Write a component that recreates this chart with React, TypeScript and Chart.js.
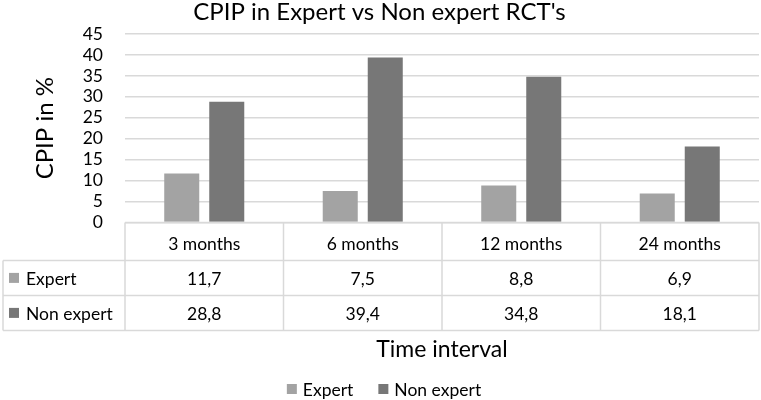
import React, { useEffect, useRef } from "react";
import { Chart, registerables } from "chart.js";

Chart.register(...registerables);

const chartTitle = "CPIP in Expert vs Non expert RCT's";
const yAxisTitle = "CPIP in %";
const xAxisTitle = "Time interval";
const categories = ["3 months", "6 months", "12 months", "24 months"];
const seriesNames = ["Expert", "Non expert"];
const expertValues = [11.7, 7.5, 8.8, 6.9];
const nonExpertValues = [28.8, 39.4, 34.8, 18.1];
const yMin = 0;
const yMax = 45;
const yStep = 5;

const COLORS = ["#a3a3a3", "#777777"];
const FONT = "Lato";
const TEXT = "#000000";
const GRID = "#d9d9d9";

const fmt = (v: number) => v.toFixed(1).replace(".", ",");

const tablePlugin = {
  id: "dataTable",
  afterDraw(chart: any) {
    const { ctx, chartArea } = chart;
    const xs = chart.scales.x;
    const left = chartArea.left;
    const right = chartArea.right;
    const top = chartArea.bottom;
    const headerH = 38;
    const rowH = 35;
    const labelLeft = 3;
    const n = categories.length;
    const colW = (right - left) / n;
    const rows = [expertValues, nonExpertValues];
    const bottom = top + headerH + rows.length * rowH;
    ctx.save();
    ctx.strokeStyle = GRID;
    ctx.lineWidth = 1.5;
    const line = (x1: number, y1: number, x2: number, y2: number) => {
      ctx.beginPath();
      ctx.moveTo(x1, y1);
      ctx.lineTo(x2, y2);
      ctx.stroke();
    };
    line(left, top, right, top);
    for (let r = 0; r <= rows.length; r++) {
      const y = top + headerH + r * rowH;
      line(labelLeft, y, right, y);
    }
    for (let i = 0; i <= n; i++) {
      const x = left + i * colW;
      line(x, top, x, bottom);
    }
    line(labelLeft, top + headerH, labelLeft, bottom);

    ctx.font = `17.5px ${FONT}`;
    ctx.textBaseline = "middle";
    ctx.textAlign = "center";
    ctx.fillStyle = TEXT;
    categories.forEach((c, i) => ctx.fillText(c, xs.getPixelForValue(i), top + 22));
    rows.forEach((vals, r) => {
      const cy = top + headerH + r * rowH + rowH / 2 + 1;
      ctx.fillStyle = TEXT;
      ctx.textAlign = "center";
      vals.forEach((v, i) => ctx.fillText(fmt(v), xs.getPixelForValue(i), cy));
      ctx.fillStyle = COLORS[r];
      ctx.fillRect(9, cy - 6, 10, 10);
      ctx.fillStyle = TEXT;
      ctx.textAlign = "left";
      ctx.fillText(seriesNames[r], 26, cy);
    });

    // legend
    const box = 10;
    const gapText = 6;
    const gapItem = 25;
    const widths = seriesNames.map((s) => box + gapText + ctx.measureText(s).width);
    const total = widths.reduce((a, b) => a + b, 0) + gapItem * (widths.length - 1);
    let x = 384 - total / 2;
    const ly = 390;
    seriesNames.forEach((s, i) => {
      ctx.fillStyle = COLORS[i];
      ctx.fillRect(x, ly - 6, box, box);
      ctx.fillStyle = TEXT;
      ctx.textAlign = "left";
      ctx.fillText(s, x + box + gapText, ly);
      x += widths[i] + gapItem;
    });
    ctx.restore();
  },
};

export default function App() {
  const ref = useRef<HTMLCanvasElement>(null);
  useEffect(() => {
    document.body.style.margin = "0";
    const chart = new Chart(ref.current as HTMLCanvasElement, {
      type: "bar",
      data: {
        labels: categories,
        datasets: [
          {
            label: seriesNames[0],
            data: expertValues,
            backgroundColor: COLORS[0],
            barPercentage: 0.778,
            categoryPercentage: 0.568,
          },
          {
            label: seriesNames[1],
            data: nonExpertValues,
            backgroundColor: COLORS[1],
            barPercentage: 0.778,
            categoryPercentage: 0.568,
          },
        ],
      },
      options: {
        responsive: false,
        animation: false,
        layout: { padding: { left: 0, right: 2, top: 0, bottom: 0 } },
        plugins: {
          legend: { display: false },
          tooltip: { enabled: false },
          title: {
            display: true,
            text: chartTitle,
            color: TEXT,
            font: { family: FONT, size: 24, weight: "normal", lineHeight: 1 },
            padding: { top: 0, bottom: 10 },
          },
        },
        scales: {
          x: {
            grid: { display: false, drawTicks: false },
            border: { display: false },
            ticks: { display: false },
            title: {
              display: true,
              text: xAxisTitle,
              color: TEXT,
              font: { family: FONT, size: 23 },
              padding: { top: 113, bottom: 37 },
            },
          },
          y: {
            min: yMin,
            max: yMax,
            ticks: {
              stepSize: yStep,
              autoSkip: false,
              color: TEXT,
              font: { family: FONT, size: 17.5 },
              padding: 22,
            },
            grid: { color: GRID, lineWidth: 1.5, drawTicks: false },
            border: { display: false },
            title: {
              display: true,
              text: yAxisTitle,
              color: TEXT,
              font: { family: FONT, size: 24 },
              padding: { top: 31, bottom: 0 },
            },
            afterFit: (s: any) => {
              s.width = 125;
            },
          },
        },
      },
      plugins: [tablePlugin],
    } as any);
    return () => chart.destroy();
  }, []);
  return (
    <div style={{ width: 761, height: 400 }}>
      <canvas ref={ref} width={761} height={400} />
    </div>
  );
}
